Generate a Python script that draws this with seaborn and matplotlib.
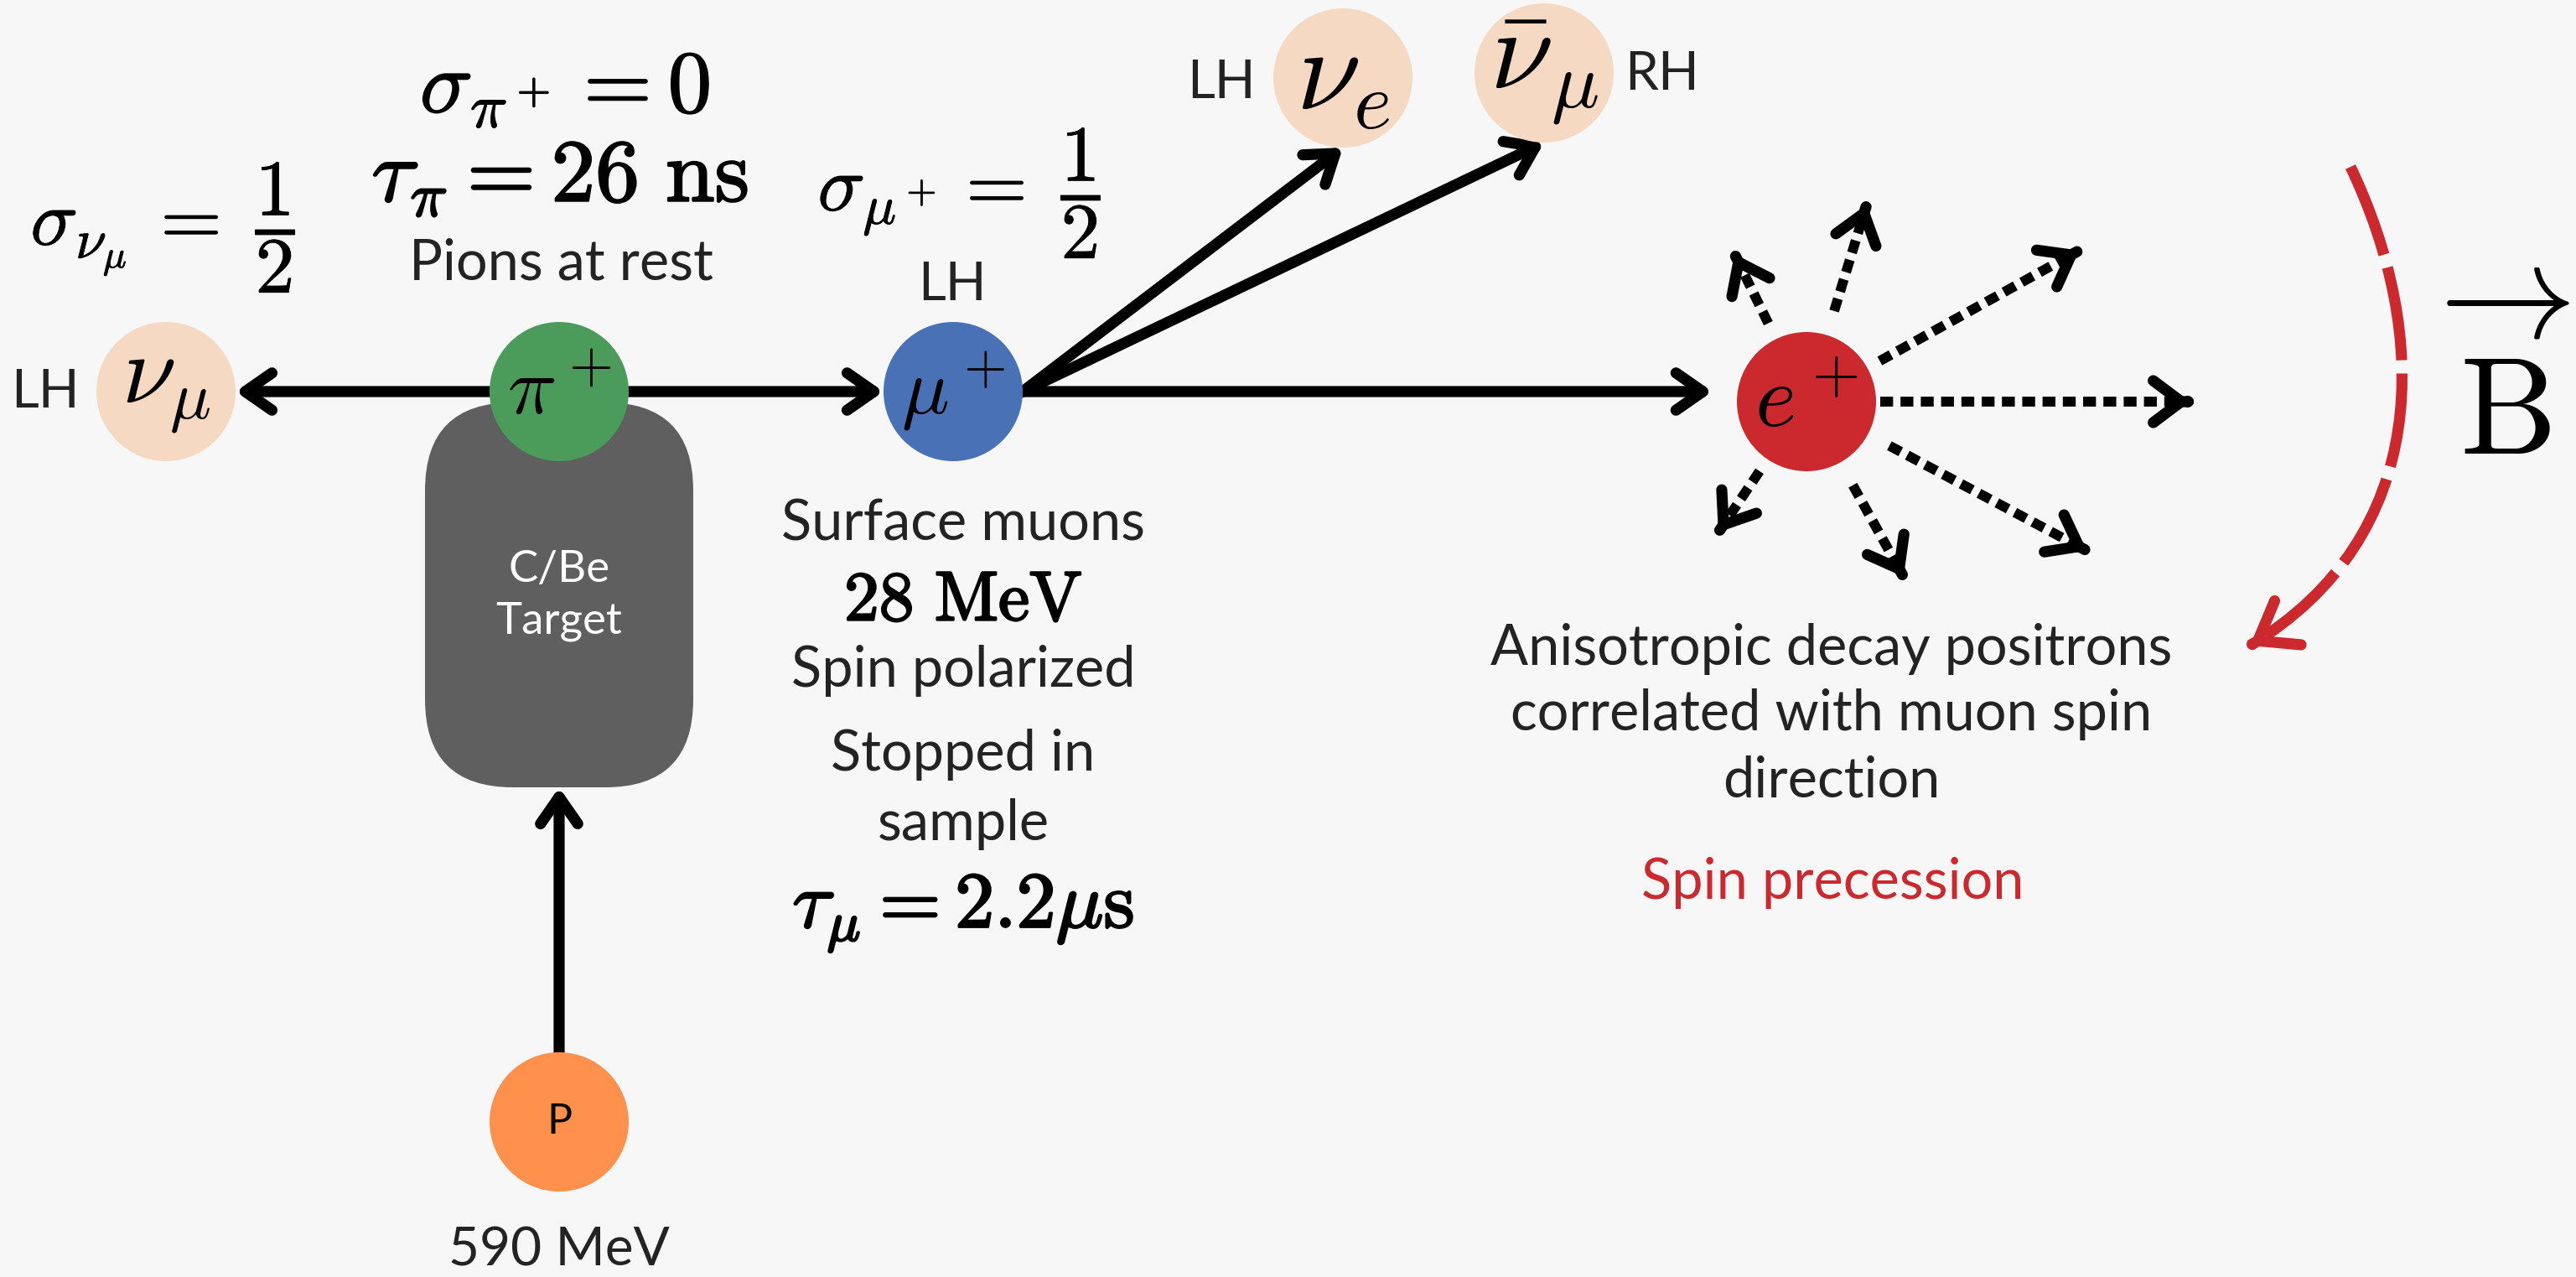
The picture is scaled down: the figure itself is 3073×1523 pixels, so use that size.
import numpy as np
import matplotlib.pyplot as plt
import matplotlib.patheffects as pe
import seaborn as sns
from matplotlib.patches import FancyArrowPatch, FancyBboxPatch, PathPatch, ArrowStyle
from matplotlib.path import Path

# canvas is laid out in pixels, y counted from the top
W, H = 3073, 1523
BG = "#F7F7F7"
INK = "#232323"
RED = "#CC292E"

# particles
node_names = ["nu_mu", "pi", "mu", "nu_e", "nubar_mu", "e", "p"]
node_x = [198, 667, 1137, 1602, 1842, 2155, 667]
node_y = [467, 467, 467, 93, 87, 479, 1338]
node_labels = [r"$\nu_\mu$", r"$\pi^+$", r"$\mu^+$", r"$\nu_e$", r"$\bar{\nu}_\mu$", r"$e^+$", "P"]
node_label_size = [84, 70, 68, 100, 98, 76, 36]
node_colors = ["#F5D9C2", "#4B9B5A", "#4872B5", "#F5D9C2", "#F5D9C2", "#CC292E", "#FF914D"]
node_r = 83

# target block
target_x, target_y, target_w, target_h = 507, 480, 320, 459

# solid decay arrows (from node side -> to node side)
link_from = ["pi", "pi", "mu", "mu", "mu", "p"]
link_from_side = ["left", "right", "right", "right", "right", "top"]
link_to = ["nu_mu", "mu", "nu_e", "nubar_mu", "e", "target"]
link_to_side = ["right", "left", "bottom", "bottom", "left", "bottom"]
link_gap = [0, 0, 0, 0, 21, 0]

# dotted positron emission arrows around e+
spray_angle = [116, 73, 29, 0, -28, -61, -124]
spray_start = [104, 113, 100, 88, 112, 114, 100]
spray_end = [196, 246, 372, 458, 379, 239, 188]

# spin precession arc (cubic bezier)
arc_x = [2804, 2900, 2900, 2684]
arc_y = [199, 400, 640, 770]

# plain text: (text, x, baseline y, size, color)
plain_text = [
    ("LH", 54, 486, 46, INK),
    ("Pions at rest", 669, 333, 48, INK),
    ("LH", 1136, 358, 46, INK),
    ("LH", 1457, 117, 46, INK),
    ("RH", 1983, 107, 46, INK),
    ("Surface muons", 1149, 644, 48, INK),
    ("Spin polarized", 1149, 819, 48, INK),
    ("Stopped in", 1149, 919, 48, INK),
    ("sample", 1149, 1002, 48, INK),
    ("590 MeV", 667, 1510, 46, INK),
    ("Anisotropic decay positrons", 2185, 793, 48, INK),
    ("correlated with muon spin", 2185, 871, 48, INK),
    ("direction", 2185, 950, 48, INK),
    ("Spin precession", 2186, 1072, 48, RED),
    ("C/Be", 667, 694, 38, "white"),
    ("Target", 667, 755, 38, "white"),
]

# equations: (tex, x, y, size, vertical anchor, extra stroke)
math_text = [
    (r"$\sigma_{\nu_\mu}\,=\;\dfrac{1}{2}$", 195, 272, 68, "center", 0.6),
    (r"$\sigma_{\pi^+} = 0$", 674, 134, 76, "baseline", 1.0),
    (r"$\tau_\pi = 26\ \mathrm{ns}$", 668, 240, 76, "baseline", 1.6),
    (r"$\sigma_{\mu^+} =\;\dfrac{1}{2}$", 1145, 231, 68, "center", 0.6),
    (r"$\mathrm{28\ MeV}$", 1149, 740, 60, "baseline", 1.8),
    (r"$\tau_\mu = 2.2\mu\mathrm{s}$", 1149, 1106, 68, "baseline", 1.8),
]

sns.set_theme(style="white")
plt.rcParams["font.family"] = ["Lato", "DejaVu Sans"]
plt.rcParams["mathtext.fontset"] = "cm"

fig = plt.figure(figsize=(W / 100, H / 100), dpi=100, facecolor=BG)
ax = fig.add_axes([0, 0, 1, 1])
ax.set_facecolor(BG)

pos = {n: (x, y) for n, x, y in zip(node_names, node_x, node_y)}
pos["target"] = (target_x + target_w / 2, target_y + target_h / 2)
half = {n: (node_r, node_r) for n in node_names}
half["target"] = (target_w / 2, target_h / 2)
side_vec = {"left": (-1, 0), "right": (1, 0), "top": (0, -1), "bottom": (0, 1)}


def anchor(name, side):
    cx, cy = pos[name]
    hx, hy = half[name]
    sx, sy = side_vec[side]
    return (cx + sx * hx, cy + sy * hy)


def head(p_from, p_to, lw, hl, hw, color="black", shrink=0):
    style = ArrowStyle("->", head_length=hl, head_width=hw)
    a = FancyArrowPatch(p_from, p_to, arrowstyle=style, mutation_scale=1,
                        lw=lw, color=color, capstyle="round", joinstyle="round",
                        shrinkA=0, shrinkB=shrink, zorder=3)
    ax.add_patch(a)


# target block
ax.add_patch(FancyBboxPatch((target_x, target_y), target_w, target_h,
                            boxstyle="round,pad=0,rounding_size=105",
                            fc="#5F5F5F", ec="none", zorder=1))

# solid arrows; side-to-side links stay level with their source
for f, fs, t, ts, g in zip(link_from, link_from_side, link_to, link_to_side, link_gap):
    a0 = anchor(f, fs)
    a1 = anchor(t, ts)
    if fs in ("left", "right") and ts in ("left", "right"):
        a1 = (a1[0], a0[1])
    head(a0, a1, 9.5, 23, 16, shrink=g)

# dotted arrows
ex, ey = pos["e"]
for ang, r0, r1 in zip(spray_angle, spray_start, spray_end):
    d = np.array([np.cos(np.radians(ang)), -np.sin(np.radians(ang))])
    p0 = np.array([ex, ey]) + d * r0
    p1 = np.array([ex, ey]) + d * r1
    ax.plot([p0[0], p1[0]], [p0[1], p1[1]], color="black", lw=8.5,
            linestyle=(0, (1.3, 0.75)), dash_capstyle="butt", zorder=2)
    head(tuple(p1 - d * 3), tuple(p1), 9.5, 24, 18)

# spin precession arc
verts = list(zip(arc_x, arc_y))
arc = PathPatch(Path(verts, [Path.MOVETO, Path.CURVE4, Path.CURVE4, Path.CURVE4]),
                fill=False, ec=RED, lw=9.5, linestyle=(0, (8.5, 1.2)),
                capstyle="butt", zorder=2)
ax.add_patch(arc)
tip = np.array(verts[-1], dtype=float)
tan = tip - np.array(verts[-2], dtype=float)
tan /= np.linalg.norm(tan)
head(tuple(tip - tan * 3), tuple(tip), 9.5, 30, 22, color=RED)

# particles
sns.scatterplot(x=node_x, y=node_y, hue=node_names,
                palette=dict(zip(node_names, node_colors)),
                s=(2 * node_r * 0.72) ** 2, linewidth=0, legend=False,
                ax=ax, zorder=4)
for lab, x, y, fs in zip(node_labels, node_x, node_y, node_label_size):
    ax.text(x, y, lab, fontsize=fs, ha="center", va="center", color="black", zorder=5)

for s, x, y, fs, c in plain_text:
    ax.text(x, y, s, fontsize=fs, ha="center", va="baseline", color=c, zorder=5)

for s, x, y, fs, va, sw in math_text:
    t = ax.text(x, y, s, fontsize=fs, ha="center", va=va, color="black", zorder=5)
    t.set_path_effects([pe.withStroke(linewidth=sw, foreground="black")])

# magnetic field symbol (vector B), partly cut by the right edge
ax.text(2934, 540, r"$\mathrm{B}$", fontsize=118, ha="left", va="baseline", color="black")
ax.text(3066, 356, r"$\rightarrow$", fontsize=118, ha="right", va="center", color="black")

ax.set_xlim(0, W)
ax.set_ylim(H, 0)
ax.axis("off")
fig.savefig("out.png", dpi=100, facecolor=BG)
